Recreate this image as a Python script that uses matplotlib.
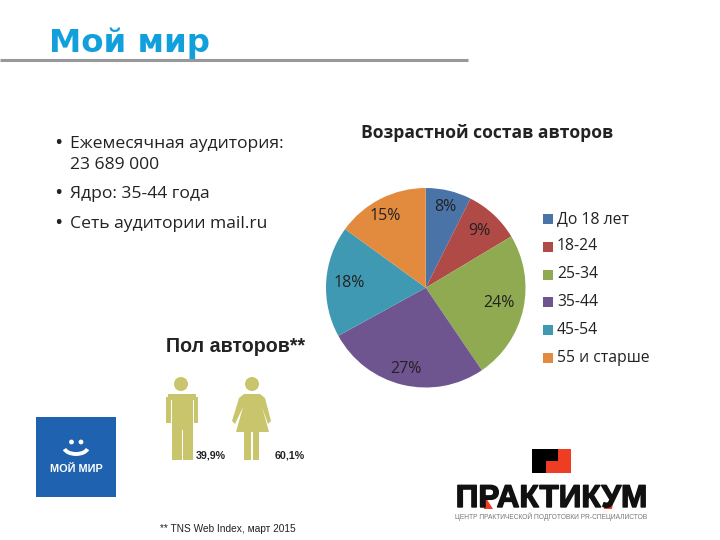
import matplotlib
matplotlib.use('Agg')
import matplotlib.pyplot as plt
import matplotlib.patheffects as pe
from matplotlib.patches import Rectangle, Circle, Polygon, Arc

plt.rcParams['font.family'] = ['Open Sans', 'DejaVu Sans']

# pie data, angles, labels as printed
age_groups = ['До 18 лет', '18-24', '25-34', '35-44', '45-54', '55 и старше']
age_shares = [7.4, 9.0, 24.1, 26.5, 18.0, 15.0]
age_labels = ['8%', '9%', '24%', '27%', '18%', '15%']
age_colors = ['#4A74A8', '#B04A47', '#8FAA50', '#6F5590', '#4099B2', '#E28A3E']
label_x = [445, 479, 499, 406, 349, 385]
label_y = [207, 231, 303, 369, 283, 216]

bullet_lines = ['Ежемесячная аудитория:', '23 689 000', 'Ядро: 35-44 года', 'Сеть аудитории mail.ru']
bullet_line_y = [144, 165, 194, 224]
bullet_marks_y = [144, 194, 224]
gender_values = ['39,9%', '60,1%']

W, H = 720, 540
fig = plt.figure(figsize=(7.2, 5.4), dpi=100)
bg = fig.add_axes([0, 0, 1, 1])
bg.set_xlim(0, W)
bg.set_ylim(H, 0)
bg.axis('off')

# header
bg.text(49, 43, 'Мой мир', fontsize=23.3, fontweight='bold', color='#12A0DC', family='DejaVu Sans', va='center')
bg.plot([0, 468], [60, 60], color='#989898', lw=2.2, solid_capstyle='butt')

# bullets
for y in bullet_marks_y:
    bg.text(54, y, '•', fontsize=16, color='#222222', va='center')
for txt, y in zip(bullet_lines, bullet_line_y):
    bg.text(70, y, txt, fontsize=12.6, color='#222222', va='center')

# pie
pie_ax = fig.add_axes([326 / W, 1 - 387.5 / H, 199.5 / W, 199.5 / H])
pie_ax.pie(age_shares, colors=age_colors, startangle=90, counterclock=False, radius=1,
           wedgeprops={'edgecolor': 'none'})
pie_ax.set_xlim(-1, 1)
pie_ax.set_ylim(-1, 1)

bg.text(487, 133, 'Возрастной состав авторов', fontsize=12.6, fontweight='bold', color='#222222',
        ha='center', va='center')

top = fig.add_axes([0, 0, 1, 1])
top.set_xlim(0, W)
top.set_ylim(H, 0)
top.axis('off')
top.patch.set_alpha(0)

for lab, x, y in zip(age_labels, label_x, label_y):
    top.text(x, y, lab, fontsize=11.5, color='#222222', ha='center', va='center')

# legend
legend_y = [219, 246.5, 274.5, 301.5, 329.5, 358]
for name, col, y in zip(age_groups, age_colors, legend_y):
    top.add_patch(Rectangle((543, y - 5), 10, 10, color=col, lw=0))
    top.text(557, y, name, fontsize=11.3, color='#222222', va='center')

# gender block
top.text(235.5, 346, 'Пол авторов**', fontsize=14.1, fontweight='bold', color='#222222',
         family='Liberation Sans', ha='center', va='center')
fig_col = '#C9C56C'
top.add_patch(Circle((181, 384), 7, color=fig_col, lw=0))
top.add_patch(Rectangle((168, 394), 28, 6, color=fig_col, lw=0))
top.add_patch(Rectangle((172, 394), 21, 36, color=fig_col, lw=0))
top.add_patch(Rectangle((166, 397), 5, 26, color=fig_col, lw=0))
top.add_patch(Rectangle((194, 397), 4, 26, color=fig_col, lw=0))
top.add_patch(Rectangle((172, 430), 10, 30, color=fig_col, lw=0))
top.add_patch(Rectangle((183, 430), 10, 30, color=fig_col, lw=0))
top.add_patch(Circle((252, 384), 7, color=fig_col, lw=0))
top.add_patch(Polygon([(244, 394), (260, 394), (265, 398), (271, 421), (268, 424), (262, 407), (269, 432),
                       (236, 432), (243, 407), (235, 424), (232, 421), (239, 398)], closed=True,
                      color=fig_col, lw=0))
top.add_patch(Rectangle((244, 432), 7, 28, color=fig_col, lw=0))
top.add_patch(Rectangle((253, 432), 6, 28, color=fig_col, lw=0))
top.text(210.5, 455, gender_values[0], fontsize=7.7, fontweight='bold', color='#222222',
         family='Liberation Sans', ha='center', va='center')
top.text(290, 455, gender_values[1], fontsize=7.7, fontweight='bold', color='#222222',
         family='Liberation Sans', ha='center', va='center')

# moi mir logo
top.add_patch(Rectangle((36, 417), 80, 80, color='#1F62B0', lw=0))
top.add_patch(Circle((71.5, 442), 2.4, color='white', lw=0))
top.add_patch(Circle((81, 442), 2.4, color='white', lw=0))
top.add_patch(Arc((76, 447), 24, 14, theta1=10, theta2=170, color='white', lw=2.8))
top.text(76, 469, 'МОЙ МИР', fontsize=7.8, fontweight='bold', color='white', ha='center', va='center',
         family='Liberation Sans')

# footnote
top.text(160, 529, '** TNS Web Index, март 2015', fontsize=7.25, color='#222222', family='Liberation Sans', va='center')

# praktikum logo
top.add_patch(Rectangle((532, 449), 26, 24, color='black', lw=0))
top.add_patch(Polygon([(558, 449), (571, 449), (571, 473), (546, 473), (546, 461), (558, 461)], closed=True,
                      color='#EE3D23', lw=0))
top.text(551.5, 499, 'ПРАКТИКУМ', fontsize=22.7, fontweight='bold', color='#111111', family='Liberation Sans',
         ha='center', va='center', path_effects=[pe.withStroke(linewidth=1.0, foreground='#111111')])
top.add_patch(Polygon([(480, 498), (486, 498), (493, 509), (484, 509)], closed=True, color='#EE3D23', lw=0))
top.add_patch(Polygon([(604, 503), (613, 503), (612, 509), (604, 509)], closed=True, color='#EE3D23', lw=0))
top.text(551, 517, 'ЦЕНТР ПРАКТИЧЕСКОЙ ПОДГОТОВКИ PR-СПЕЦИАЛИСТОВ', fontsize=4.75, color='#777777',
         family='Liberation Sans', ha='center', va='center')

fig.savefig('out.png', dpi=100)
